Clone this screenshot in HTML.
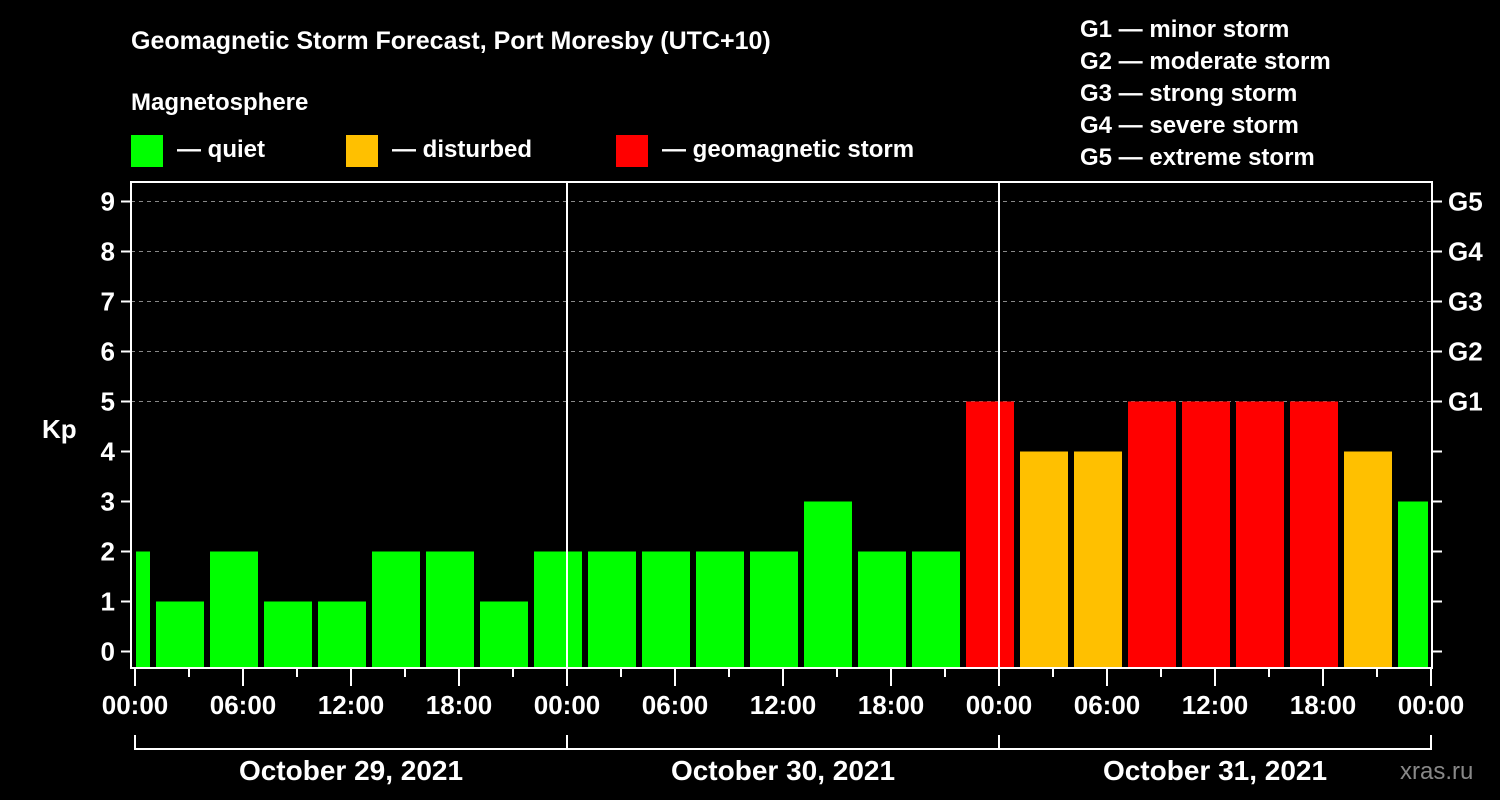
<!DOCTYPE html>
<html><head><meta charset="utf-8"><style>
body{margin:0;background:#000;width:1500px;height:800px;overflow:hidden}
svg{display:block;font-family:"Liberation Sans",Arial,sans-serif;font-weight:bold}
</style></head><body>
<svg id="c" width="1500" height="800">
<rect width="1500" height="800" fill="#000"/>
<text x="131" y="49" fill="#fff" font-size="25">Geomagnetic Storm Forecast, Port Moresby (UTC+10)</text>
<text x="131" y="110" fill="#fff" font-size="24">Magnetosphere</text>
<g><rect x="131" y="135" width="32" height="32" fill="#00ff00"/><text x="177" y="157" fill="#fff" font-size="24">— quiet</text></g>
<g><rect x="346" y="135" width="32" height="32" fill="#ffc000"/><text x="392" y="157" fill="#fff" font-size="24">— disturbed</text></g>
<g><rect x="616" y="135" width="32" height="32" fill="#ff0000"/><text x="662" y="157" fill="#fff" font-size="24">— geomagnetic storm</text></g>
<g fill="#fff" font-size="24">
<text x="1080" y="37">G1 — minor storm</text>
<text x="1080" y="69">G2 — moderate storm</text>
<text x="1080" y="101">G3 — strong storm</text>
<text x="1080" y="133">G4 — severe storm</text>
<text x="1080" y="165">G5 — extreme storm</text>
</g>
<text x="42" y="438" fill="#fff" font-size="26">Kp</text>
<text x="1400" y="779" fill="#888" font-size="24" font-weight="normal">xras.ru</text>
<g id="grid"></g><g id="bars"></g><g id="axes"></g>
</svg>
<script>
const kpValues=[2,1,2,1,1,2,2,1,2,2,2,2,2,3,2,2,5,4,4,5,5,5,5,4,3];
const yTicks=[0,1,2,3,4,5,6,7,8,9];
const gLabels=["G1","G2","G3","G4","G5"];
const gLevels=[5,6,7,8,9];
const xTickLabels=["00:00","06:00","12:00","18:00","00:00","06:00","12:00","18:00","00:00","06:00","12:00","18:00","00:00"];
const dayLabels=["October 29, 2021","October 30, 2021","October 31, 2021"];
const NS="http://www.w3.org/2000/svg";
const X0=135,PXH=18,L=131,R=1432,T=182,B=668;
const xs=h=>X0+h*PXH;
const ys=v=>651.5-v*50;
function mk(tag,attrs,parent,txt){const e=document.createElementNS(NS,tag);for(const k in attrs)e.setAttribute(k,attrs[k]);if(txt!==undefined)e.textContent=txt;parent.appendChild(e);return e;}
const grid=document.getElementById('grid'),bars=document.getElementById('bars'),axes=document.getElementById('axes');
gLevels.forEach(v=>{const l=mk('line',{x1:L,x2:R,y1:ys(v),y2:ys(v),stroke:'#888','stroke-dasharray':'4,4','stroke-width':1},grid);

});
kpValues.forEach((v,k)=>{const c=xs(3*k-0.5);let x1=Math.max(c-24,X0+1),x2=Math.min(c+24,xs(72)-3);
const col=v>=5?'#ff0000':(v>=4?'#ffc000':'#00ff00');
const r=mk('rect',{x:x1,y:ys(v),width:x2-x1,height:B-ys(v),fill:col},bars);

});
[1,2].forEach(d=>{const l=mk('line',{x1:xs(24*d),x2:xs(24*d),y1:T,y2:B,stroke:'#fff','stroke-width':2},axes);

});
const fr=mk('rect',{x:L,y:T,width:R-L,height:B-T,fill:'none',stroke:'#fff','stroke-width':2},axes);


yTicks.forEach(v=>{mk('line',{x1:L-10,x2:L,y1:ys(v),y2:ys(v),stroke:'#fff','stroke-width':2},axes);
mk('line',{x1:R,x2:R+10,y1:ys(v),y2:ys(v),stroke:'#fff','stroke-width':2},axes);
const t=mk('text',{x:L-16,y:ys(v)+9,fill:'#fff','font-size':26,'text-anchor':'end'},axes,String(v));

});
gLabels.forEach((g,i)=>{const t=mk('text',{x:R+16,y:ys(gLevels[i])+9,fill:'#fff','font-size':26},axes,g);

});
for(let h=0;h<=72;h+=3){const major=h%6===0;mk('line',{x1:xs(h),x2:xs(h),y1:B,y2:B+(major?18:9),stroke:'#fff','stroke-width':2},axes);}
xTickLabels.forEach((s,i)=>{const t=mk('text',{x:xs(6*i),y:714,fill:'#fff','font-size':26,'text-anchor':'middle'},axes,s);

});
mk('line',{x1:xs(0),x2:xs(72),y1:749,y2:749,stroke:'#fff','stroke-width':2},axes);
[0,24,48,72].forEach(h=>mk('line',{x1:xs(h),x2:xs(h),y1:735,y2:750,stroke:'#fff','stroke-width':2},axes));
dayLabels.forEach((s,i)=>{const t=mk('text',{x:xs(24*i+12),y:780,fill:'#fff','font-size':28,'text-anchor':'middle'},axes,s);

});
</script>
</body></html>
